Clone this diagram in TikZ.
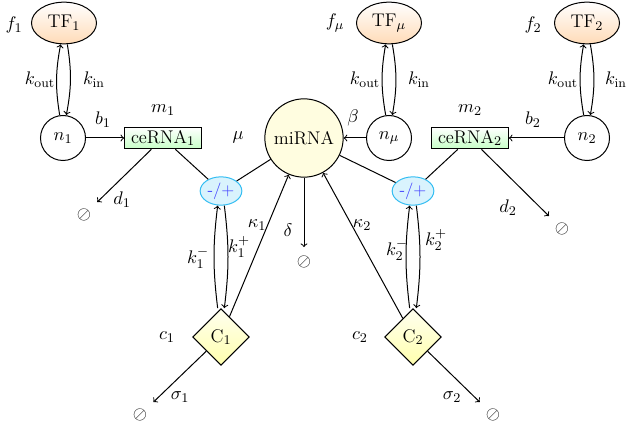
\documentclass[tikz,border=0pt]{standalone}
\usepackage{amsmath}
\usepackage{amssymb}
\usetikzlibrary{shapes.geometric}
\usetikzlibrary{arrows}
\tikzset{tf/.style = {draw, ellipse, minimum width = 39pt, minimum height = 25pt, inner sep = 0,
                      top color = white, bottom color = orange!28}}
\tikzset{gene/.style = {draw, circle, minimum size = 27pt, inner sep = 0}}
\tikzset{rna/.style = {draw, rectangle, minimum width = 46pt, minimum height = 13pt, inner sep = 1pt,
                       top color = white, bottom color = green!22}}
\tikzset{mir/.style = {draw, circle, minimum size = 47pt, inner sep = 0, fill = yellow!12}}
\tikzset{cplx/.style = {draw, diamond, minimum size = 34pt, inner sep = 0,
                        top color = yellow!6, bottom color = yellow!32}}
\tikzset{bind/.style = {draw = cyan!80, ellipse, minimum width = 25pt, minimum height = 17pt, inner sep = 0,
                        fill = cyan!15, text = blue!75, font = \fontsize{10}{12}\selectfont}}
\tikzset{sink/.style = {inner sep = 1pt}}
\tikzset{lbl/.style = {inner sep = 0}}

\begin{document}
\begin{tikzpicture}[x = 0.6pt, y = -0.6pt, line width = 0.6pt, >=to,
                    font = \fontsize{11}{13}\selectfont]
    \useasboundingbox (0, 0) rectangle (630, 424);

    % transcription factors and genes
    \node [tf] (tf1) at (64, 23) {TF$_1$};
    \node [tf] (tfmu) at (389, 23) {TF$_\mu$};
    \node [tf] (tf2) at (587, 23) {TF$_2$};
    \node [gene] (n1) at (63, 138) {$n_1$};
    \node [gene] (nmu) at (389, 138) {$n_\mu$};
    \node [gene] (n2) at (587, 138) {$n_2$};

    % RNAs
    \node [rna] (cer1) at (163, 138) {ceRNA$_1$};
    \node [rna] (cer2) at (470, 138) {ceRNA$_2$};
    \node [mir] (mir) at (304, 138) {miRNA};
    \node [bind] (bd1) at (221, 191) {-/+};
    \node [bind] (bd2) at (413, 191) {-/+};
    \node [cplx] (cp1) at (221, 337) {C$_1$};
    \node [cplx] (cp2) at (413, 337) {C$_2$};

    % decay sinks
    \node [sink] (s1) at (84, 215) {$\oslash$};
    \node [sink] (s2) at (562, 229) {$\oslash$};
    \node [sink] (s3) at (304, 262) {$\oslash$};
    \node [sink] (s4) at (140, 415) {$\oslash$};
    \node [sink] (s5) at (493, 415) {$\oslash$};

    % TF binding
    \draw [->] ([xshift=-2pt]n1.north) to [bend left=10] ([xshift=-2pt]tf1.south);
    \draw [->] ([xshift=2pt]tf1.south) to [bend left=10] ([xshift=2pt]n1.north);
    \draw [->] ([xshift=-2pt]nmu.north) to [bend left=10] ([xshift=-2pt]tfmu.south);
    \draw [->] ([xshift=2pt]tfmu.south) to [bend left=10] ([xshift=2pt]nmu.north);
    \draw [->] ([xshift=-2pt]n2.north) to [bend left=10] ([xshift=-2pt]tf2.south);
    \draw [->] ([xshift=2pt]tf2.south) to [bend left=10] ([xshift=2pt]n2.north);

    % transcription
    \draw [->] (n1) -- (cer1);
    \draw [->] (nmu) -- (mir);
    \draw [->] (n2) -- (cer2);

    % complex formation
    \draw (cer1) -- (bd1);
    \draw (mir) -- (bd1);
    \draw (cer2) -- (bd2);
    \draw (mir) -- (bd2);
    \draw [->] ([xshift=-2pt]cp1.north) to [bend left=7] ([xshift=-2pt]bd1.south);
    \draw [->] ([xshift=2pt]bd1.south) to [bend left=7] ([xshift=2pt]cp1.north);
    \draw [->] ([xshift=-2pt]cp2.north) to [bend left=7] ([xshift=-2pt]bd2.south);
    \draw [->] ([xshift=2pt]bd2.south) to [bend left=7] ([xshift=2pt]cp2.north);
    \draw [->] (cp1) -- (mir);
    \draw [->] (cp2) -- (mir);

    % decay
    \draw [->, shorten >=4pt] (cer1) -- (s1);
    \draw [->, shorten >=4pt] (cer2) -- (s2);
    \draw [->, shorten >=4pt] (mir) -- (s3);
    \draw [->, shorten >=4pt] (cp1) -- (s4);
    \draw [->, shorten >=4pt] (cp2) -- (s5);

    % rates and amounts
    \node [lbl] (lf1) at (14, 25) {$f_1$};
    \node [lbl] (lfmu) at (335, 23) {$f_\mu$};
    \node [lbl] (lf2) at (533, 25) {$f_2$};
    \node [lbl] (lko1) at (40, 80) {$k_{\text{out}}$};
    \node [lbl] (lki1) at (94, 80) {$k_{\text{in}}$};
    \node [lbl] (lkomu) at (365, 80) {$k_{\text{out}}$};
    \node [lbl] (lkimu) at (419, 80) {$k_{\text{in}}$};
    \node [lbl] (lko2) at (563, 80) {$k_{\text{out}}$};
    \node [lbl] (lki2) at (616, 80) {$k_{\text{in}}$};
    \node [lbl] (lb1) at (103, 120) {$b_1$};
    \node [lbl] (lm1) at (163, 110) {$m_1$};
    \node [lbl] (lmu) at (238, 137) {$\mu$};
    \node [lbl] (lbeta) at (353, 118) {$\beta$};
    \node [lbl] (lm2) at (470, 110) {$m_2$};
    \node [lbl] (lb2) at (533, 120) {$b_2$};
    \node [lbl] (ld1) at (122, 200) {$d_1$};
    \node [lbl] (ld2) at (508, 208) {$d_2$};
    \node [lbl] (lkap1) at (257, 225) {$\kappa_1$};
    \node [lbl] (ldelta) at (288, 230) {$\delta$};
    \node [lbl] (lkap2) at (362, 225) {$\kappa_2$};
    \node [lbl] (lkm1) at (198, 258) {$k_1^-$};
    \node [lbl] (lkp1) at (239, 247) {$k_1^+$};
    \node [lbl] (lkm2) at (397, 250) {$k_2^-$};
    \node [lbl] (lkp2) at (436, 240) {$k_2^+$};
    \node [lbl] (lc1) at (167, 337) {$c_1$};
    \node [lbl] (lc2) at (360, 337) {$c_2$};
    \node [lbl] (ls1) at (180, 397) {$\sigma_1$};
    \node [lbl] (ls2) at (452, 397) {$\sigma_2$};
  \end{tikzpicture}
\end{document}
